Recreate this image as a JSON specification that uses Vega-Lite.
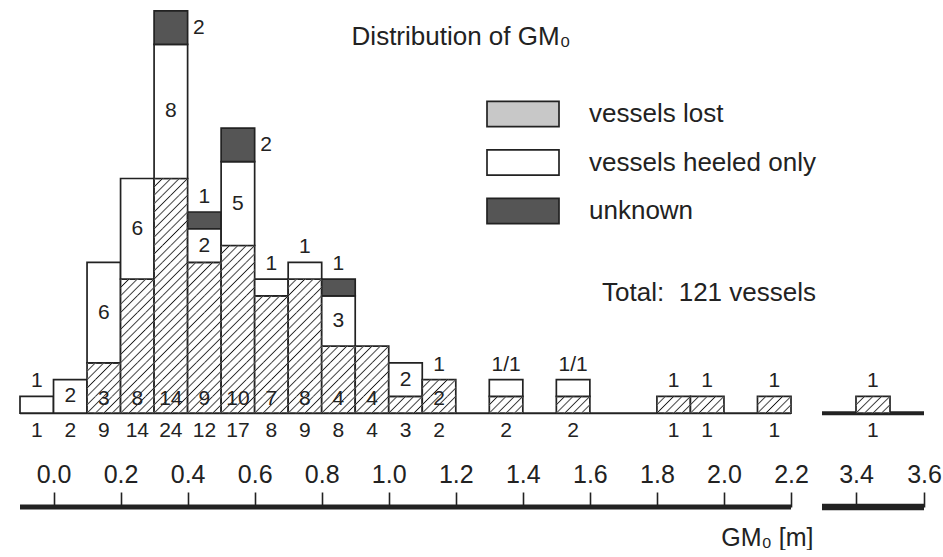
{
"$schema": "https://vega.github.io/schema/vega-lite/v6.json",
"width": 904,
"height": 502,
"padding": {"left": 17, "top": 5, "right": 0, "bottom": 0},
"background": "#ffffff",
"title": {"text": "Distribution of GM₀", "anchor": "middle", "frame": "group", "offset": -66, "baseline": "alphabetic", "dx": -11, "fontSize": 26, "fontWeight": "normal", "font": "Liberation Sans", "color": "#222222"},
"datasets": {
"seg": [
{"lo": -0.1, "hi": 0.0, "s": "vessels heeled only", "n": 1, "above": "1"},
{"lo": 0.0, "hi": 0.1, "s": "vessels heeled only", "n": 2, "lab": "2"},
{"lo": 0.1, "hi": 0.2, "s": "vessels lost", "n": 3, "lab": "3"},
{"lo": 0.1, "hi": 0.2, "s": "vessels heeled only", "n": 6, "lab": "6"},
{"lo": 0.2, "hi": 0.3, "s": "vessels lost", "n": 8, "lab": "8"},
{"lo": 0.2, "hi": 0.3, "s": "vessels heeled only", "n": 6, "lab": "6"},
{"lo": 0.3, "hi": 0.4, "s": "vessels lost", "n": 14, "lab": "14"},
{"lo": 0.3, "hi": 0.4, "s": "vessels heeled only", "n": 8, "lab": "8"},
{"lo": 0.3, "hi": 0.4, "s": "unknown", "n": 2, "lab": "2"},
{"lo": 0.4, "hi": 0.5, "s": "vessels lost", "n": 9, "lab": "9"},
{"lo": 0.4, "hi": 0.5, "s": "vessels heeled only", "n": 2, "lab": "2"},
{"lo": 0.4, "hi": 0.5, "s": "unknown", "n": 1, "above": "1"},
{"lo": 0.5, "hi": 0.6, "s": "vessels lost", "n": 10, "lab": "10"},
{"lo": 0.5, "hi": 0.6, "s": "vessels heeled only", "n": 5, "lab": "5"},
{"lo": 0.5, "hi": 0.6, "s": "unknown", "n": 2, "lab": "2"},
{"lo": 0.6, "hi": 0.7, "s": "vessels lost", "n": 7, "lab": "7"},
{"lo": 0.6, "hi": 0.7, "s": "vessels heeled only", "n": 1, "above": "1"},
{"lo": 0.7, "hi": 0.8, "s": "vessels lost", "n": 8, "lab": "8"},
{"lo": 0.7, "hi": 0.8, "s": "vessels heeled only", "n": 1, "above": "1"},
{"lo": 0.8, "hi": 0.9, "s": "vessels lost", "n": 4, "lab": "4"},
{"lo": 0.8, "hi": 0.9, "s": "vessels heeled only", "n": 3, "lab": "3"},
{"lo": 0.8, "hi": 0.9, "s": "unknown", "n": 1, "above": "1"},
{"lo": 0.9, "hi": 1.0, "s": "vessels lost", "n": 4, "lab": "4"},
{"lo": 1.0, "hi": 1.1, "s": "vessels lost", "n": 1},
{"lo": 1.0, "hi": 1.1, "s": "vessels heeled only", "n": 2, "lab": "2"},
{"lo": 1.1, "hi": 1.2, "s": "vessels lost", "n": 2, "lab": "2", "above": "1"},
{"lo": 1.3, "hi": 1.4, "s": "vessels lost", "n": 1},
{"lo": 1.3, "hi": 1.4, "s": "vessels heeled only", "n": 1, "above": "1/1"},
{"lo": 1.5, "hi": 1.6, "s": "vessels lost", "n": 1},
{"lo": 1.5, "hi": 1.6, "s": "vessels heeled only", "n": 1, "above": "1/1"},
{"lo": 1.8, "hi": 1.9, "s": "vessels lost", "n": 1, "above": "1"},
{"lo": 1.9, "hi": 2.0, "s": "vessels lost", "n": 1, "above": "1"},
{"lo": 2.1, "hi": 2.2, "s": "vessels lost", "n": 1, "above": "1"},
{"lo": 3.4, "hi": 3.5, "s": "vessels lost", "n": 1, "above": "1"}
],
"units": [
{"lo": 0.1, "hi": 0.2}, {"lo": 0.1, "hi": 0.2}, {"lo": 0.1, "hi": 0.2},
{"lo": 0.2, "hi": 0.3}, {"lo": 0.2, "hi": 0.3}, {"lo": 0.2, "hi": 0.3}, {"lo": 0.2, "hi": 0.3}, {"lo": 0.2, "hi": 0.3}, {"lo": 0.2, "hi": 0.3}, {"lo": 0.2, "hi": 0.3}, {"lo": 0.2, "hi": 0.3},
{"lo": 0.3, "hi": 0.4}, {"lo": 0.3, "hi": 0.4}, {"lo": 0.3, "hi": 0.4}, {"lo": 0.3, "hi": 0.4}, {"lo": 0.3, "hi": 0.4}, {"lo": 0.3, "hi": 0.4}, {"lo": 0.3, "hi": 0.4}, {"lo": 0.3, "hi": 0.4}, {"lo": 0.3, "hi": 0.4}, {"lo": 0.3, "hi": 0.4}, {"lo": 0.3, "hi": 0.4}, {"lo": 0.3, "hi": 0.4}, {"lo": 0.3, "hi": 0.4}, {"lo": 0.3, "hi": 0.4},
{"lo": 0.4, "hi": 0.5}, {"lo": 0.4, "hi": 0.5}, {"lo": 0.4, "hi": 0.5}, {"lo": 0.4, "hi": 0.5}, {"lo": 0.4, "hi": 0.5}, {"lo": 0.4, "hi": 0.5}, {"lo": 0.4, "hi": 0.5}, {"lo": 0.4, "hi": 0.5}, {"lo": 0.4, "hi": 0.5},
{"lo": 0.5, "hi": 0.6}, {"lo": 0.5, "hi": 0.6}, {"lo": 0.5, "hi": 0.6}, {"lo": 0.5, "hi": 0.6}, {"lo": 0.5, "hi": 0.6}, {"lo": 0.5, "hi": 0.6}, {"lo": 0.5, "hi": 0.6}, {"lo": 0.5, "hi": 0.6}, {"lo": 0.5, "hi": 0.6}, {"lo": 0.5, "hi": 0.6},
{"lo": 0.6, "hi": 0.7}, {"lo": 0.6, "hi": 0.7}, {"lo": 0.6, "hi": 0.7}, {"lo": 0.6, "hi": 0.7}, {"lo": 0.6, "hi": 0.7}, {"lo": 0.6, "hi": 0.7}, {"lo": 0.6, "hi": 0.7},
{"lo": 0.7, "hi": 0.8}, {"lo": 0.7, "hi": 0.8}, {"lo": 0.7, "hi": 0.8}, {"lo": 0.7, "hi": 0.8}, {"lo": 0.7, "hi": 0.8}, {"lo": 0.7, "hi": 0.8}, {"lo": 0.7, "hi": 0.8}, {"lo": 0.7, "hi": 0.8},
{"lo": 0.8, "hi": 0.9}, {"lo": 0.8, "hi": 0.9}, {"lo": 0.8, "hi": 0.9}, {"lo": 0.8, "hi": 0.9},
{"lo": 0.9, "hi": 1.0}, {"lo": 0.9, "hi": 1.0}, {"lo": 0.9, "hi": 1.0}, {"lo": 0.9, "hi": 1.0},
{"lo": 1.0, "hi": 1.1},
{"lo": 1.1, "hi": 1.2}, {"lo": 1.1, "hi": 1.2},
{"lo": 1.3, "hi": 1.4},
{"lo": 1.5, "hi": 1.6},
{"lo": 1.8, "hi": 1.9},
{"lo": 1.9, "hi": 2.0},
{"lo": 2.1, "hi": 2.2},
{"lo": 3.4, "hi": 3.5}
],
"panels": [{"lo": -0.1, "hi": 2.2}, {"lo": 3.3, "hi": 3.6}]
},
"encoding": {
"x": {"field": "lo", "type": "quantitative",
 "scale": {"type": "linear", "domain": [-0.1, 2.2, 3.3, 3.6], "range": [0, 771, 802, 904], "nice": false, "zero": false},
 "axis": {"orient": "top", "offset": -502, "values": [0, 0.2, 0.4, 0.6, 0.8, 1, 1.2, 1.4, 1.6, 1.8, 2, 2.2, 3.4, 3.6], "format": ".1f", "domain": false, "grid": false, "ticks": true, "tickSize": 15, "tickWidth": 1.6, "tickColor": "#222222", "labelFontSize": 25, "labelColor": "#222222", "labelFont": "Liberation Sans", "labelPadding": 5, "labelFlush": false, "labelOverlap": false, "labelBound": false, "title": "GM₀ [m]", "titleFontSize": 25, "titleFontWeight": "normal", "titleColor": "#222222", "titleFont": "Liberation Sans", "titleX": 793, "titleY": 30, "titleAlign": "right", "titleBaseline": "middle"}
}
},
"layer": [
{"data": {"name": "panels"},
 "mark": {"type": "rule", "color": "#222222", "strokeCap": "butt"},
 "encoding": {"x2": {"field": "hi"}, "y": {"datum": 0, "axis": null}, "strokeWidth": {"condition": {"test": "datum.lo > 3", "value": 4}, "value": 2}}},
{"data": {"name": "panels"},
 "mark": {"type": "rule", "color": "#222222", "strokeCap": "butt"},
 "encoding": {"x2": {"field": "hi"}, "y": {"datum": -5.6, "axis": null}, "strokeWidth": {"condition": {"test": "datum.lo > 3", "value": 6.5}, "value": 5}}},
{"data": {"name": "seg"},
 "transform": [{"stack": "n", "groupby": ["lo"], "sort": [{"field": "s", "order": "descending"}], "as": ["y0", "y1"]}],
 "mark": {"type": "rect", "stroke": "#222222", "strokeWidth": 1.7},
 "encoding": {
  "x2": {"field": "hi"},
  "y": {"field": "y0", "type": "quantitative", "scale": {"domain": [-5.6, 24.35], "nice": false, "zero": false}, "axis": null},
  "y2": {"field": "y1"},
  "fill": {"condition": {"test": "datum.s === 'vessels lost'", "value": "#ffffff"},
   "field": "s", "type": "nominal",
   "scale": {"domain": ["vessels lost", "vessels heeled only", "unknown"], "range": ["#c8c8c8", "#ffffff", "#555555"]},
   "legend": {"orient": "none", "legendX": 466, "legendY": 95, "direction": "vertical",
    "title": "Total:\u00a0 121 vessels", "titleOrient": "bottom", "titleAnchor": "end", "titlePadding": 55, "titleFontSize": 26, "titleFontWeight": "normal", "titleFont": "Liberation Sans", "titleColor": "#222222", "titleLimit": 500,
    "labelFontSize": 26, "labelFont": "Liberation Sans", "labelColor": "#222222", "labelOffset": 29, "labelLimit": 400,
    "symbolType": "M-1,-0.35H1V0.35H-1Z", "symbolSize": 5184, "symbolStrokeColor": "#222222", "symbolStrokeWidth": 1.7, "symbolOpacity": 1,
    "clipHeight": 28, "rowPadding": 20.5, "padding": 0
   }
  }
 }
},
{"data": {"name": "units"},
 "transform": [{"window": [{"op": "row_number", "as": "k1"}, {"op": "count", "as": "k0"}], "frame": [null, -1], "ignorePeers": true, "groupby": ["lo"]}],
 "mark": {"type": "rect", "strokeWidth": 0, "fill": {"gradient": "linear", "x1": 0, "y1": 0, "x2": 1.2, "y2": 0.6, "stops": [
  {"offset": 0, "color": "#1a1a1a"},
  {"offset": 0.036, "color": "rgba(255,255,255,0)"}, {"offset": 0.131, "color": "rgba(255,255,255,0)"},
  {"offset": 0.1667, "color": "#1a1a1a"},
  {"offset": 0.203, "color": "rgba(255,255,255,0)"}, {"offset": 0.297, "color": "rgba(255,255,255,0)"},
  {"offset": 0.3333, "color": "#1a1a1a"},
  {"offset": 0.369, "color": "rgba(255,255,255,0)"}, {"offset": 0.464, "color": "rgba(255,255,255,0)"},
  {"offset": 0.5, "color": "#1a1a1a"},
  {"offset": 0.536, "color": "rgba(255,255,255,0)"}, {"offset": 0.631, "color": "rgba(255,255,255,0)"},
  {"offset": 0.6667, "color": "#1a1a1a"},
  {"offset": 0.703, "color": "rgba(255,255,255,0)"}, {"offset": 0.797, "color": "rgba(255,255,255,0)"},
  {"offset": 0.8333, "color": "#1a1a1a"},
  {"offset": 0.869, "color": "rgba(255,255,255,0)"}, {"offset": 0.964, "color": "rgba(255,255,255,0)"},
  {"offset": 1, "color": "#1a1a1a"}]}},
 "encoding": {"x2": {"field": "hi"}, "y": {"field": "k0", "type": "quantitative", "axis": null}, "y2": {"field": "k1"}}},
{"data": {"name": "seg"},
 "transform": [{"filter": "datum.s === 'vessels lost' && datum.lab != null"}],
 "mark": {"type": "text", "dx": 16.76, "dy": -14, "align": "center", "baseline": "middle", "fontSize": 21, "font": "Liberation Sans", "color": "#222222"},
 "encoding": {"y": {"datum": 0, "axis": null}, "text": {"field": "lab", "type": "nominal"}}},
{"data": {"name": "seg"},
 "transform": [
  {"stack": "n", "groupby": ["lo"], "sort": [{"field": "s", "order": "descending"}], "as": ["y0", "y1"]},
  {"filter": "datum.s === 'vessels heeled only' && datum.lab != null"},
  {"fold": ["y0", "y1"], "as": ["edge", "yv"]},
  {"aggregate": [{"op": "mean", "field": "yv", "as": "ym"}], "groupby": ["lo", "lab"]}],
 "mark": {"type": "text", "dx": 16.76, "align": "center", "baseline": "middle", "fontSize": 21, "font": "Liberation Sans", "color": "#222222"},
 "encoding": {"y": {"field": "ym", "type": "quantitative", "axis": null}, "text": {"field": "lab", "type": "nominal"}}},
{"data": {"name": "seg"},
 "transform": [
  {"stack": "n", "groupby": ["lo"], "sort": [{"field": "s", "order": "descending"}], "as": ["y0", "y1"]},
  {"filter": "datum.s === 'unknown' && datum.lab != null"},
  {"fold": ["y0", "y1"], "as": ["edge", "yv"]},
  {"aggregate": [{"op": "mean", "field": "yv", "as": "ym"}], "groupby": ["lo", "lab"]}],
 "mark": {"type": "text", "dx": 39, "align": "left", "baseline": "middle", "fontSize": 21, "font": "Liberation Sans", "color": "#222222"},
 "encoding": {"y": {"field": "ym", "type": "quantitative", "axis": null}, "text": {"field": "lab", "type": "nominal"}}},
{"data": {"name": "seg"},
 "transform": [
  {"stack": "n", "groupby": ["lo"], "sort": [{"field": "s", "order": "descending"}], "as": ["y0", "y1"]},
  {"joinaggregate": [{"op": "max", "field": "y1", "as": "btop"}], "groupby": ["lo"]},
  {"filter": "datum.above != null"}],
 "mark": {"type": "text", "dx": 16.76, "dy": -15, "align": "center", "baseline": "middle", "fontSize": 21, "font": "Liberation Sans", "color": "#222222"},
 "encoding": {"y": {"field": "btop", "type": "quantitative", "axis": null}, "text": {"field": "above", "type": "nominal"}}},
{"data": {"name": "seg"},
 "transform": [{"aggregate": [{"op": "sum", "field": "n", "as": "tot"}], "groupby": ["lo"]}],
 "mark": {"type": "text", "dx": 16.76, "dy": 17.5, "align": "center", "baseline": "middle", "fontSize": 21, "font": "Liberation Sans", "color": "#222222"},
 "encoding": {"y": {"datum": 0, "axis": null}, "text": {"field": "tot", "type": "quantitative"}}}
],
"config": {"view": {"stroke": null}, "font": "Liberation Sans", "axis": {"grid": false}}
}
